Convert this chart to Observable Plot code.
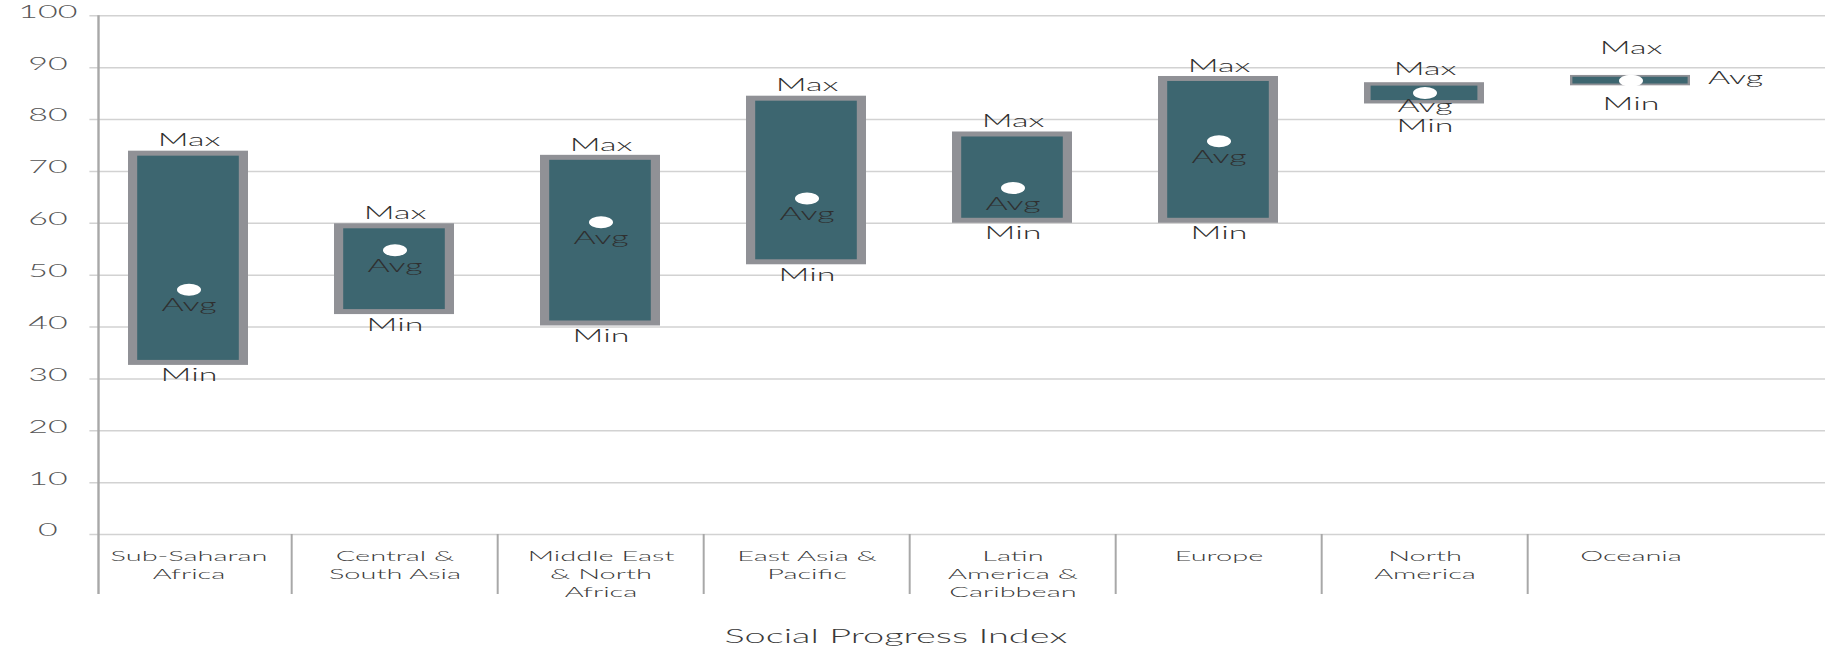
<!DOCTYPE html>
<html>
<head>
<meta charset="utf-8">
<script src="https://cdn.jsdelivr.net/npm/d3@7"></script>
<script src="https://cdn.jsdelivr.net/npm/@observablehq/plot@0.6"></script>
<style>
  html, body { margin: 0; padding: 0; background: #fff; }
  #chart svg { display: block; }
</style>
</head>
<body>
<div id="chart"></div>
<script>
// ---- data ----
const categories = ["Sub-Saharan Africa", "Central & South Asia", "Middle East & North Africa", "East Asia & Pacific", "Latin America & Caribbean", "Europe", "North America", "Oceania"];
const categoryLabels = ["Sub-Saharan\nAfrica", "Central &\nSouth Asia", "Middle East\n& North\nAfrica", "East Asia &\nPacific", "Latin\nAmerica &\nCaribbean", "Europe", "North\nAmerica", "Oceania"];
const maxValues = [73.9, 59.9, 73.1, 84.5, 77.6, 88.3, 87.1, 88.5];
const minValues = [32.6, 42.4, 40.2, 52.0, 60.0, 60.0, 83.0, 86.5];
const avgValues = [47.2, 54.8, 60.2, 64.8, 66.8, 75.8, 85.1, 87.5];
const yTicks = [0, 10, 20, 30, 40, 50, 60, 70, 80, 90, 100];
const axisTitle = "Social Progress Index";

const rows = categories.map((c, i) => ({category: c, label: categoryLabels[i], min: minValues[i], max: maxValues[i], avg: avgValues[i]}));

// ---- layout (the reference is drawn at half width and stretched 2x horizontally) ----
const W = 912.5, H = 652;
const xRange = [48.3, 862];
const padInner = 0.414, padOuter = 0.145;
const xs = d3.scaleBand(categories, xRange).paddingInner(padInner).paddingOuter(padOuter);
const half = xs.step() / 2;
const center0 = xs(categories[0]) + xs.bandwidth() / 2;
const leftDx = xRange[0] - center0;
const tickLabelCenter = 23;

const teal = "#3d6670", gray = "#909196";
const isOceania = d => d.category === "Oceania";
const isSmall = d => !isOceania(d) && (d.max - d.min) < 10;
const isNormal = d => (d.max - d.min) >= 10;

const labelFont = {fontSize: 17, fill: "#2f2f2f", fontWeight: 300};

const chart = Plot.plot({
  width: W,
  height: H,
  marginLeft: xRange[0],
  marginRight: 0,
  marginTop: 15.3,
  marginBottom: 118,
  style: {fontFamily: "Lato, 'Open Sans', sans-serif", background: "white"},
  x: {domain: categories, range: xRange, paddingInner: padInner, paddingOuter: padOuter, axis: null},
  y: {domain: [0, 100], axis: null},
  marks: [
    // grid
    Plot.ruleY(yTicks, {y: d => d, stroke: "#d2d2d2", strokeWidth: 1.5, insetLeft: -3.6}),
    // y tick labels
    Plot.text(yTicks, {x: () => categories[0], y: d => d, text: d => String(d), dx: tickLabelCenter - center0, dy: -3.5, textAnchor: "middle", fontSize: 17, fontWeight: 300, fill: "#555"}),
    // left axis line
    Plot.ruleX([categories[0]], {x: d => d, dx: leftDx, y1: 100, y2: 0, insetBottom: -60, stroke: "#a8a8a8", strokeWidth: 1.2}),
    // category separators
    Plot.ruleX(categories.slice(1), {x: d => d, dx: -half, y1: 0, y2: 0, insetBottom: -60, stroke: "#a8a8a8", strokeWidth: 1}),
    // bars: gray border + teal body
    Plot.barY(rows, {x: "category", y1: "min", y2: "max", fill: gray}),
    Plot.barY(rows.filter(isNormal), {x: "category", y1: "min", y2: "max", fill: teal, insetLeft: 4.6, insetRight: 4.6, insetTop: 5, insetBottom: 5}),
    Plot.barY(rows.filter(isSmall), {x: "category", y1: "min", y2: "max", fill: teal, insetLeft: 3.3, insetRight: 3.3, insetTop: 3.4, insetBottom: 3.4}),
    Plot.barY(rows.filter(isOceania), {x: "category", y1: "min", y2: "max", fill: teal, insetLeft: 1.2, insetRight: 1.2, insetTop: 1.8, insetBottom: 1.8}),
    // average dots
    Plot.dot(rows, {x: "category", y: "avg", r: 6, fill: "white", stroke: "none"}),
    // labels - normal bars
    Plot.text(rows.filter(isNormal), {x: "category", y: "max", text: () => "Max", lineAnchor: "bottom", dy: -4.7, ...labelFont}),
    Plot.text(rows.filter(isNormal), {x: "category", y: "avg", text: () => "Avg", lineAnchor: "top", dy: 9.5, ...labelFont}),
    Plot.text(rows.filter(isNormal), {x: "category", y: "min", text: () => "Min", lineAnchor: "top", dy: 4, ...labelFont}),
    // labels - short bar
    Plot.text(rows.filter(isSmall), {x: "category", y: "max", text: () => "Max", lineAnchor: "bottom", dy: -8, ...labelFont}),
    Plot.text(rows.filter(isSmall), {x: "category", y: "avg", text: () => "Avg", lineAnchor: "top", dy: 7.3, ...labelFont}),
    Plot.text(rows.filter(isSmall), {x: "category", y: "min", text: () => "Min", lineAnchor: "top", dy: 15.6, ...labelFont}),
    // labels - Oceania
    Plot.text(rows.filter(isOceania), {x: "category", y: "max", text: () => "Max", lineAnchor: "bottom", dy: -21.7, ...labelFont}),
    Plot.text(rows.filter(isOceania), {x: "category", y: "avg", text: () => "Avg", textAnchor: "start", lineAnchor: "middle", dx: 38.5, dy: -1.7, ...labelFont}),
    Plot.text(rows.filter(isOceania), {x: "category", y: "min", text: () => "Min", lineAnchor: "top", dy: 11.7, ...labelFont}),
    // category labels
    Plot.text(rows, {x: "category", text: "label", frameAnchor: "bottom", lineAnchor: "top", dy: 13.5, lineHeight: 1.24, fontSize: 14.5, fontWeight: 300, fill: "#3a3a3a"}),
    // axis title
    Plot.text([axisTitle], {text: d => d, frameAnchor: "bottom", dx: -33, dy: 108, fontSize: 19, fontWeight: 300, fill: "#3a3a3a"})
  ]
});

chart.setAttribute("width", 1825);
chart.setAttribute("height", 652);
chart.setAttribute("viewBox", `0 0 ${W} ${H}`);
chart.setAttribute("preserveAspectRatio", "none");
chart.style.width = "1825px";
chart.style.height = "652px";
chart.style.maxWidth = "none";
document.getElementById("chart").appendChild(chart);
</script>
</body>
</html>
